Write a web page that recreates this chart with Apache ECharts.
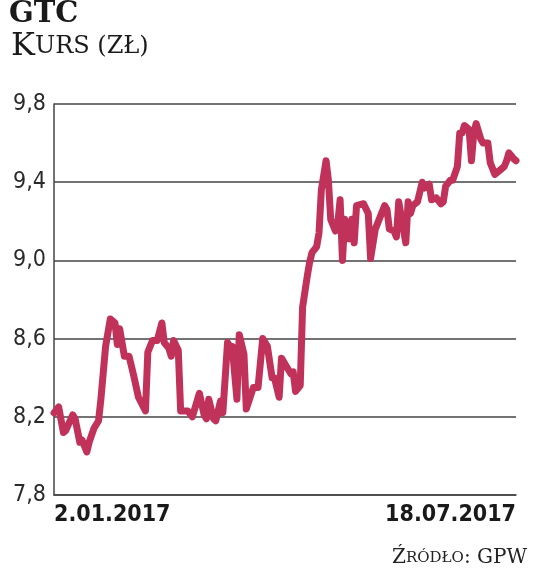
<!DOCTYPE html>
<html><head><meta charset="utf-8">
<script src="https://cdn.jsdelivr.net/npm/echarts@6/dist/echarts.min.js"></script>
<style>html,body{margin:0;padding:0;background:#fff}#c{width:536px;height:573px}</style>
</head><body><div id="c"></div>
<script>
// days since 2.01.2017
const days = [0,2,4,5,8,9,11,12,14,15,17,19,20,22,24,26,27,28,30,32,34,36,39,40,42,44,46,47,49,50,51,53,54,57,59,62,64,65,66,68,69,71,72,74,75,76,78,79,81,82,85,87,89,91,93,94,96,97,99,101,102,103,105,106,108,109,110,112,113,114,116,117,118,120,121,122,123,124,126,127,128,129,132,134,135,137,139,141,142,143,145,146,147,149,150,151,152,153,155,157,158,160,161,163,165,166,167,169,170,172,173,174,175,177,178,179,180,182,183,185,186,188,190,192,193,194,196,197];
const prices = [8.22,8.25,8.12,8.13,8.21,8.19,8.07,8.08,8.02,8.07,8.14,8.18,8.29,8.56,8.70,8.68,8.57,8.65,8.51,8.51,8.41,8.30,8.23,8.53,8.59,8.59,8.68,8.58,8.55,8.51,8.59,8.54,8.23,8.23,8.20,8.32,8.21,8.19,8.29,8.19,8.18,8.28,8.22,8.58,8.56,8.56,8.29,8.62,8.52,8.24,8.35,8.35,8.60,8.56,8.40,8.40,8.30,8.50,8.46,8.42,8.43,8.33,8.36,8.76,8.92,8.99,9.04,9.07,9.14,9.36,9.51,9.41,9.21,9.15,9.19,9.31,9.00,9.21,9.11,9.21,9.09,9.28,9.29,9.24,9.01,9.16,9.22,9.28,9.26,9.16,9.15,9.12,9.30,9.16,9.09,9.30,9.24,9.28,9.30,9.40,9.37,9.39,9.31,9.32,9.29,9.30,9.38,9.41,9.41,9.48,9.65,9.65,9.69,9.67,9.51,9.65,9.70,9.62,9.60,9.60,9.50,9.44,9.46,9.48,9.51,9.55,9.52,9.51];
const xTickLabels = ['2.01.2017', '18.07.2017'];
const yTickLabels = ['7,8', '8,2', '8,6', '9,0', '9,4', '9,8'];

const serif = '"DejaVu Serif", "Noto Serif", serif';
const cond = '"DejaVu Sans Condensed", sans-serif';
const chart = echarts.init(document.getElementById('c'), null, {renderer: 'canvas'});
const lineColor = '#c1325a';
const gridColor = '#444';
chart.setOption({
  animation: false,
  title: [
    {text: 'GTC', left: 4, top: -5,
     textStyle: {fontFamily: serif, fontWeight: 'bold', fontSize: 29, color: '#1a1a1a'}},
    {text: '{big|K}{sm|URS (ZŁ)}', left: 6, top: 26,
     textStyle: {fontWeight: 'normal', rich: {
       big: {fontFamily: serif, fontWeight: 'normal', fontSize: 32, color: '#1a1a1a'},
       sm: {fontFamily: serif, fontWeight: 'normal', fontSize: 24, color: '#1a1a1a'}
     }}},
    {text: '{big|Ź}{sm|RÓDŁO}{big|: GPW}', right: 9, top: 548, padding: 0,
     textStyle: {fontWeight: 'normal', rich: {
       big: {fontFamily: serif, fontWeight: 'normal', fontSize: 20, color: '#222'},
       sm: {fontFamily: serif, fontWeight: 'normal', fontSize: 15, color: '#222'}
     }}}
  ],
  grid: {left: 54, right: 20, top: 104, bottom: 78, containLabel: false},
  xAxis: {
    type: 'value', min: 0, max: 197, interval: 197,
    axisLine: {show: true, lineStyle: {color: gridColor, width: 1.5}},
    axisTick: {show: false},
    splitLine: {show: false},
    axisLabel: {
      show: true, margin: 9,
      alignMinLabel: 'left', alignMaxLabel: 'right',
      fontFamily: cond, fontWeight: 'bold', fontSize: 23, color: '#1a1a1a',
      formatter: v => v === 0 ? xTickLabels[0] : (v === 197 ? xTickLabels[1] : '')
    }
  },
  yAxis: {
    type: 'value', min: 7.8, max: 9.8, interval: 0.4,
    axisLine: {show: true, lineStyle: {color: gridColor, width: 1.5}},
    axisTick: {show: false},
    splitLine: {show: true, lineStyle: {color: gridColor, width: 1.5}},
    axisLabel: {
      margin: 8, fontFamily: cond, fontSize: 23, color: '#2a2a2a',
      formatter: v => yTickLabels[Math.round((v - 7.8) / 0.4)]
    }
  },
  series: [{
    type: 'line',
    data: days.map((d, i) => [d, prices[i]]),
    showSymbol: false,
    lineStyle: {color: lineColor, width: 7, join: 'round', cap: 'round'},
    itemStyle: {color: lineColor}
  }]
});
</script></body></html>
